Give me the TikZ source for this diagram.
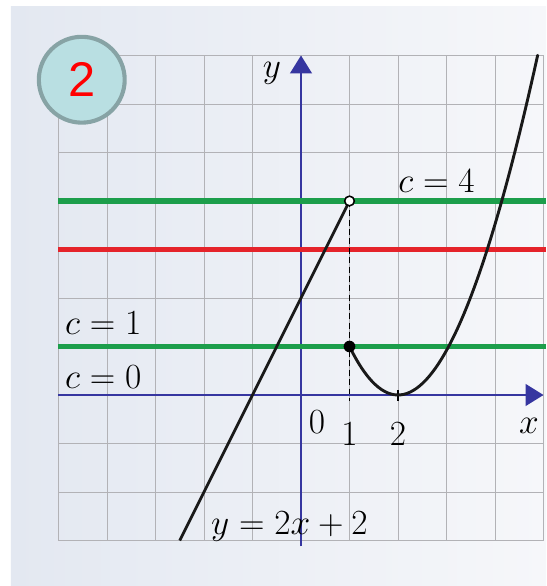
\documentclass[tikz,border=0pt]{standalone}
\usepackage{fontspec}
\usepackage{tikz}
\usetikzlibrary{arrows.meta,positioning,calc}
\newfontfamily\badgefont{Liberation Sans}
\definecolor{grgreen}{HTML}{1C9E4B}
\definecolor{grred}{HTML}{E5232A}
\definecolor{graxis}{HTML}{3636A0}
\definecolor{grgrid}{HTML}{B2B2B6}
\definecolor{grpanelL}{HTML}{E3E8F1}
\definecolor{grpanelR}{HTML}{F6F7FA}
\definecolor{grbadge}{HTML}{B9DFE2}
\definecolor{grbadgeline}{HTML}{87A3A5}

\begin{document}
\begin{tikzpicture}[
    level/.style={line width=3.2pt},
    curve/.style={line width=1.7pt, black!90},
    axis/.style={graxis, line width=1.1pt, -{Triangle[length=0.37cm,width=0.45cm]}},
    lbl/.style={font=\fontsize{21.5}{25}\selectfont, inner sep=0pt},
  ]
  \useasboundingbox (-6.206,-3.938) rectangle (5.052,8.144);
  % Panel
  \fill[white] (-6.206,-3.938) rectangle (5.052,8.144);
  \shade[left color=grpanelL, right color=grpanelR] (-5.98,-3.938) rectangle (5.052,8.02);
  % Grid
  \draw[grgrid, line width=0.55pt] (-5,-3) grid (5,7);
  % Axes
  \draw[axis] (-5,0) -- (5,0);
  \draw[axis] (0,-3.12) -- (0,7);
  % Ticks
  \draw[black, line width=0.8pt] (2,-0.12) -- (2,0.1);
  % Level lines
  \foreach \c/\col in {4/grgreen, 3/grred, 1/grgreen}{
    \draw[level, \col] (-5,\c) -- (5.052,\c);
  }
  % Points of the graph
  \coordinate (hole) at (1,4);
  \coordinate (dot) at (1,1);
  \coordinate (low) at (-2.5,-3);
  % Dashed drop from the hole
  \draw[black, line width=0.8pt, dash pattern=on 3.5pt off 2pt] (hole) -- (1,-0.12);
  % y = 2x + 2
  \draw[curve] (low) -- (hole);
  % Right branch
  \draw[curve, line cap=round] plot[domain=1:4.88, samples=60, smooth]
    (\x, {0.96*(\x-2)*(\x-2) - 0.04*(\x-2)*(\x-2)*(\x-2)});
  \fill[black] (dot) circle (0.12);
  \filldraw[fill=white, draw=black, line width=0.9pt] (hole) circle (0.1);
  % Labels
  \node[lbl, anchor=base west] (c4) at (2.0,4.17) {$c=4$};
  \node[lbl, anchor=base west] (c1) at (-4.87,1.24) {$c=1$};
  \node[lbl, anchor=base west] (c0) at (-4.87,0.14) {$c=0$};
  \node[lbl, anchor=base west] (eq) at (-1.86,-2.88) {$y=2x+2$};
  \node[lbl, anchor=base] (o) at (0.33,-0.80) {$0$};
  \node[lbl, anchor=base] (one) at (1,-1.04) {$1$};
  \node[lbl, anchor=base] (two) at (2,-1.04) {$2$};
  \node[lbl, anchor=base] (xl) at (4.70,-0.80) {$x$};
  \node[lbl, anchor=base] (yl) at (-0.60,6.54) {$y$};
  % Badge
  \node[circle, draw=grbadgeline, fill=grbadge, line width=2.4pt, minimum size=1.77cm, inner sep=0pt,
    font=\badgefont\fontsize{28.6}{30}\selectfont, text=red] (badge) at (-4.52,6.50) {2};
\end{tikzpicture}
\end{document}
